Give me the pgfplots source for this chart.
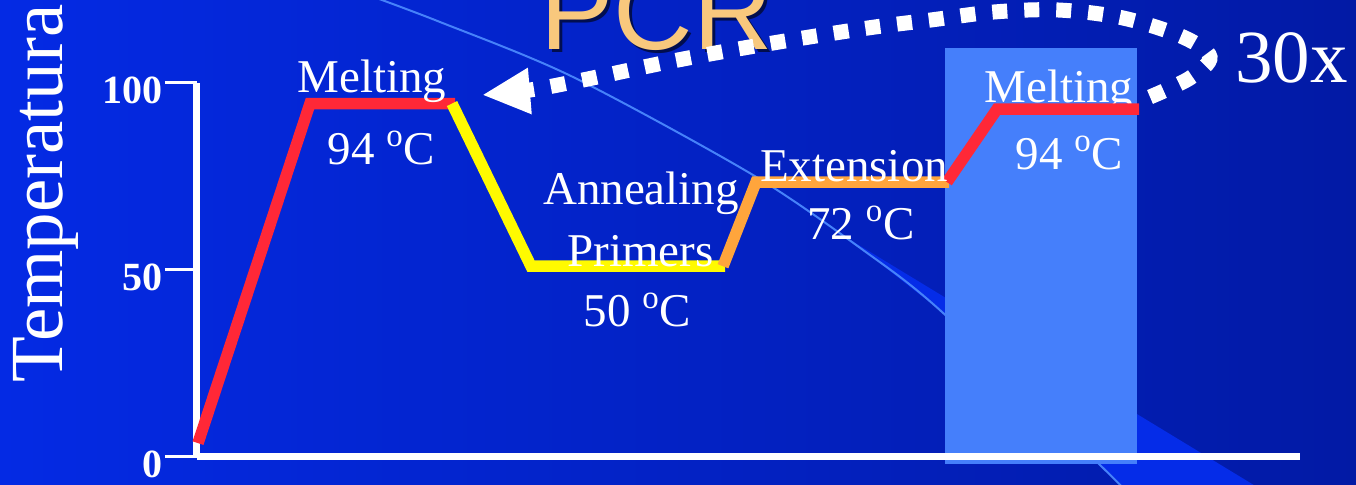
\documentclass[border=0pt]{standalone}
\usepackage{pgfplots}
\pgfplotsset{compat=1.18}
\usepackage{fontspec}
\setmainfont{Liberation Serif}
\newfontfamily\sansf{Liberation Sans}
\usetikzlibrary{arrows.meta}
\definecolor{bgL}{RGB}{4,42,228}
\definecolor{bgR}{RGB}{2,26,165}
\definecolor{wedge}{RGB}{5,44,232}
\definecolor{arcc}{RGB}{70,130,250}
\definecolor{rectc}{RGB}{69,127,251}
\definecolor{pcr}{RGB}{248,200,125}
\definecolor{mred}{RGB}{255,40,55}
\definecolor{ayel}{RGB}{255,250,0}
\definecolor{eora}{RGB}{255,165,60}
\newcommand{\fs}[1]{\fontsize{#1}{#1}\selectfont}
\begin{document}
\begin{tikzpicture}
\begin{scope}[shift={(-98.5pt,228.5pt)}, x=0.5pt, y=-0.5pt]
 \shade[left color=bgL, right color=bgR] (0,0) rectangle (1356,485);
 \fill[wedge] (834,230) -- (863,250) -- (942,312) -- (1100,465) -- (1125,490) -- (1262,490) -- cycle;
 \draw[arcc, line width=1pt] plot[smooth] coordinates {(360,-8) (440,22) (573,77) (753,175) (863,250) (942,312) (1100,465) (1127,492)};
 \fill[rectc] (945,48) rectangle (1137,464);
 \node[white, anchor=base, inner sep=0pt, font=\fs{23.5pt}] at (1059,103) {Melting};
\end{scope}
\begin{axis}[
 scale only axis, width=551.5pt, height=187pt,
 xmin=197, xmax=1300, ymin=0, ymax=100,
 axis x line=bottom, axis y line=left,
 axis line style={-, white, line width=3.5pt},
 xtick=\empty, ytick={0,50,100},
 tick align=outside, major tick length=16pt,
 major tick style={white, line width=1.5pt},
 yticklabel style={font=\bfseries\fs{20pt}, text=white, inner sep=1pt, yshift=-3.5pt},
 /pgf/number format/assume math mode=true,
 clip=false,
 every axis plot/.append style={line join=miter, line width=5.75pt},
]
\addplot[mred] coordinates {(198,3.7) (310,94.5) (455,94.5)};
\addplot[ayel] coordinates {(452,94.5) (531,51) (725,51)};
\addplot[eora] coordinates {(723,51) (756,73.5) (949,73.5)};
\addplot[mred] coordinates {(947,73.5) (997,93) (1139,93)};
\end{axis}
\begin{scope}[shift={(-98.5pt,228.5pt)}, x=0.5pt, y=-0.5pt]
 \begin{scope}[every node/.style={white, anchor=base, inner sep=0pt, font=\fs{23.5pt}}]
  \node at (372,93) {Melting};
  \node at (381.5,165) {94 \textsuperscript{o}C};
  \node at (641,205) {Annealing};
  \node at (640.5,267) {Primers};
  \node at (637.5,327) {50 \textsuperscript{o}C};
  \node at (854,182) {Extension};
  \node at (861,240) {72 \textsuperscript{o}C};
  \node at (1069.5,170) {94 \textsuperscript{o}C};
 \end{scope}
 \node[white, anchor=base, inner sep=0pt, font=\fs{37.5pt}] at (1291.5,83) {30x};
 \node[white, anchor=base west, inner sep=0pt, rotate=90, font=\fs{37.5pt}] at (63,383) {Temperatura};
 \node[black, opacity=0.6, anchor=base, inner sep=0pt, font=\sansf\fs{55pt}] at (659.5,53) {PCR};
 \node[pcr, anchor=base, inner sep=0pt, font=\sansf\fs{55pt}] at (656.5,50) {PCR};
 \draw[white, line width=7.5pt, dash pattern=on 7.5pt off 8.5pt, -{Triangle[length=24pt,width=21.5pt]}]
   plot[smooth, tension=0.55] coordinates {(1150,97) (1190,78) (1210,57) (1183,37) (1123,18) (1058,10) (994,12) (931,20) (868,28) (773,43) (678,60) (583,80) (530,90) (482,95)};
\end{scope}
\pgfresetboundingbox
\path[use as bounding box] (-98.5pt,-14pt) rectangle (579.5pt,228.5pt);
\end{tikzpicture}
\end{document}
